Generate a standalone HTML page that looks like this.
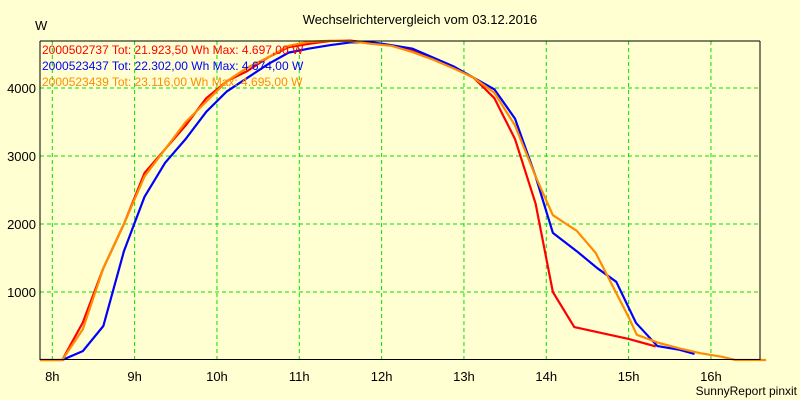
<!DOCTYPE html>
<html><head><meta charset="utf-8"><style>
body{margin:0;background:#ffffd2;}
svg{display:block;font-family:"Liberation Sans",sans-serif;}
</style></head><body>
<svg id="c" width="800" height="400">
<rect width="800" height="400" fill="#ffffd2"/>
<text x="420" y="24" font-size="13" text-anchor="middle">Wechselrichtervergleich vom 03.12.2016</text>
<text x="35" y="30" font-size="13">W</text>
<text x="797" y="395" font-size="12" text-anchor="end">SunnyReport pinxit</text>
<g id="grid"></g><g id="series"></g>
<line x1="40" y1="41" x2="40" y2="360" stroke="#000"/>
<line x1="40" y1="359.5" x2="760" y2="359.5" stroke="#000"/>
<line x1="40" y1="41" x2="760" y2="41" stroke="#000"/>
<line x1="760" y1="41" x2="760" y2="360" stroke="#000"/>
<g id="legend"></g>
</svg>
<script>
const xTicks=[8,9,10,11,12,13,14,15,16];
const xTickLabels=["8h","9h","10h","11h","12h","13h","14h","15h","16h"];
const yTicks=[1000,2000,3000,4000];
const redT=[7.85,8.12,8.37,8.62,8.87,9.12,9.37,9.62,9.87,10.12,10.37,10.62,10.87,11.12,11.37,11.62,11.87,12.12,12.37,12.62,12.87,13.12,13.37,13.62,13.87,14.08,14.34,15.0,15.33];
const redW=[0,0,550,1350,2000,2750,3100,3450,3850,4100,4250,4450,4600,4650,4690,4697,4660,4630,4550,4430,4300,4150,3850,3250,2300,1000,485,310,200];
const blueT=[8.12,8.37,8.62,8.87,9.12,9.37,9.62,9.87,10.12,10.37,10.62,10.87,11.12,11.37,11.62,11.87,12.12,12.37,12.62,12.87,13.12,13.37,13.62,13.87,14.08,14.37,14.62,14.85,15.09,15.35,15.62,15.8];
const blueW=[0,130,500,1600,2400,2900,3250,3650,3950,4150,4350,4520,4580,4630,4670,4674,4630,4580,4450,4320,4150,3980,3550,2700,1870,1600,1350,1150,545,205,150,90];
const orangeT=[7.85,8.12,8.37,8.62,8.87,9.12,9.37,9.62,9.87,10.12,10.37,10.62,10.87,11.12,11.37,11.62,11.87,12.12,12.37,12.62,12.87,13.12,13.37,13.62,13.87,14.08,14.37,14.6,15.0,15.1,15.37,15.62,15.87,16.12,16.3,16.67];
const orangeW=[0,0,450,1350,2000,2700,3100,3500,3800,4100,4300,4450,4620,4680,4695,4690,4650,4620,4530,4420,4290,4150,3930,3450,2700,2130,1900,1575,630,370,250,170,100,50,0,0];
const legendLabels=["2000502737 Tot: 21.923,50 Wh Max: 4.697,00 W","2000523437 Tot: 22.302,00 Wh Max: 4.674,00 W","2000523439 Tot: 23.116,00 Wh Max: 4.695,00 W"];
const NS="http://www.w3.org/2000/svg";
const x=t=>52.3+(t-8)*82.33;
const y=w=>360-w*0.068;
function mk(tag,attrs,parent){const e=document.createElementNS(NS,tag);for(const k in attrs)e.setAttribute(k,attrs[k]);parent.appendChild(e);return e;}
const g=document.getElementById('grid'),s=document.getElementById('series'),lg=document.getElementById('legend'),svg=document.getElementById('c');
xTicks.forEach((t,i)=>{
 const l=mk('line',{x1:x(t),x2:x(t),y1:41,y2:359,stroke:'#00e000','stroke-dasharray':'4,3'},g);
 
 
 const tx=mk('text',{x:x(t),y:381,'font-size':13,'text-anchor':'middle'},svg);
 tx.textContent=xTickLabels[i];
 
 
});
yTicks.forEach(w=>{
 const l=mk('line',{x1:40,x2:760,y1:y(w),y2:y(w),stroke:'#00e000','stroke-dasharray':'4,3'},g);
 
 
 const tx=mk('text',{x:36,y:y(w)+5,'font-size':13,'text-anchor':'end'},svg);
 tx.textContent=w;
 
 
});
[[redT,redW,'#ff0000','series-2000502737'],[blueT,blueW,'#0000ff','series-2000523437'],[orangeT,orangeW,'#ff8c00','series-2000523439']].forEach(([T,W,c,n])=>{
 const p=mk('polyline',{points:T.map((t,i)=>x(t)+','+y(W[i])).join(' '),fill:'none',stroke:c,'stroke-width':2.2,'stroke-linejoin':'round'},s);
 
 
});
const cols=['#ff0000','#0000ff','#ff8c00'];
legendLabels.forEach((L,i)=>{
 const tx=mk('text',{x:42,y:54+i*16,'font-size':12,fill:cols[i]},lg);
 tx.textContent=L;
 
 
});
</script>
</body></html>
